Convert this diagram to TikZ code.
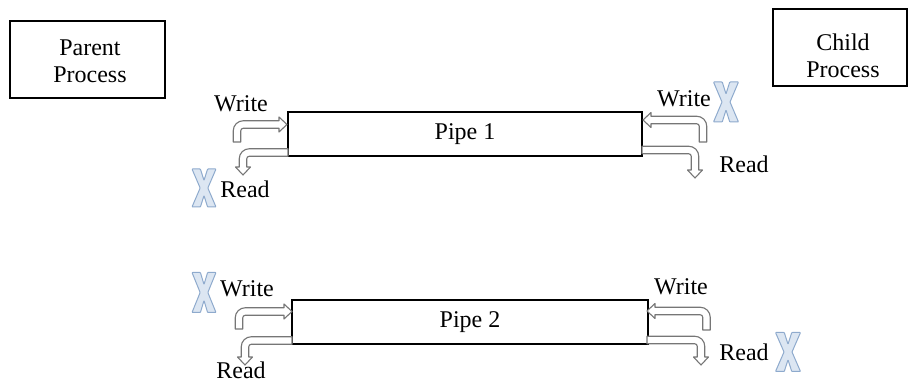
\documentclass[tikz,border=0pt]{standalone}
\usepackage{fontspec}
\setmainfont{Liberation Serif}
\definecolor{arrowgray}{HTML}{767676}
\definecolor{xfill}{HTML}{DCE6F2}
\definecolor{xline}{HTML}{8EAACD}

% shaft half-width, outer bend radius, inner bend radius, head length, head half-width
\newcommand\sw{3.75}
\newcommand\rr{10}
\newcommand\ri{2.5}
\newcommand\hl{8}
\newcommand\hw{7.5}

% Hollow bent block arrow. Canonical form: tail runs down from the bend,
% head points right.  #1 = bend point, #2 = transform, #3 = tail length,
% #4 = distance from the bend to the tip.
\newcommand\bentarrow[4]{%
  \begin{scope}[shift={#1}, #2]
    \draw[blockarrow]
      (-\sw,-#3) -- (-\sw,\sw-\rr)
      .. controls (-\sw,\sw-\rr+0.5523*\rr) and (-\sw+\rr-0.5523*\rr,\sw) .. (-\sw+\rr,\sw)
      -- (#4-\hl,\sw) -- (#4-\hl,\hw) -- (#4,0) -- (#4-\hl,-\hw) -- (#4-\hl,-\sw)
      -- (\sw+\ri,-\sw)
      .. controls (\sw+\ri-0.5523*\ri,-\sw) and (\sw,-\sw-\ri+0.5523*\ri) .. (\sw,-\sw-\ri)
      -- (\sw,-#3) -- cycle;
  \end{scope}}

% Outlined cross mark. #1 = centre, #2 = width, #3 = height
\newcommand\crossmark[3]{%
  \begin{scope}[shift={#1}, xscale=#2, yscale=#3]
    \draw[crossshape]
      (-0.5,0.5) -- (-0.15,0.5) -- (0,0.2) -- (0.15,0.5) -- (0.5,0.5)
      -- (0.16,0) -- (0.5,-0.5) -- (0.15,-0.5) -- (0,-0.2) -- (-0.15,-0.5)
      -- (-0.5,-0.5) -- (-0.16,0) -- cycle;
  \end{scope}}

\begin{document}
\begin{tikzpicture}[x=1pt, y=1pt,
  txt/.style={font=\fontsize{24pt}{27pt}\selectfont, inner sep=0pt},
  lbl/.style={txt, anchor=base},
  frame/.style={draw=black, line width=1.5pt, fill=white, inner sep=0pt, outer sep=0pt},
  blockarrow/.style={draw=arrowgray, line width=1.1pt, fill=white, line join=round},
  crossshape/.style={draw=xline, fill=xfill, line width=1pt, line join=round, rounded corners=0.6pt}]
\useasboundingbox (0,0) rectangle (908,383);

% process boxes
\node[frame, minimum width=155pt, minimum height=77pt] (parent) at (87.5,323.5) {};
\node[txt, align=center] (parenttext) at (90,322) {Parent\\Process};
\node[frame, minimum width=134pt, minimum height=77pt] (child) at (840,335.5) {};
\node[txt, align=center] (childtext) at (843,327) {Child\\Process};

% pipes
\node[frame, txt, minimum width=354pt, minimum height=44pt] (pipe1) at (465,249) {Pipe 1};
\node[frame, txt, minimum width=356pt, minimum height=44pt] (pipe2) at (470,61) {Pipe 2};

% pipe 1 ends
\bentarrow{(237,258.5)}{}{17.5}{50}
\bentarrow{(243,230.5)}{cm={0,-1,-1,0,(0,0)}}{45}{22.5}
\bentarrow{(703,263)}{xscale=-1}{22}{60}
\bentarrow{(695,233)}{rotate=-90}{53}{28}

% pipe 2 ends
\bentarrow{(239,71.5)}{}{17.5}{53}
\bentarrow{(245,42.5)}{cm={0,-1,-1,0,(0,0)}}{47}{24.5}
\bentarrow{(706.5,72)}{xscale=-1}{19}{59.5}
\bentarrow{(701,43)}{rotate=-90}{54}{25}

% labels
\node[lbl] (w1) at (241,271) {Write};
\node[lbl] (r1) at (245,185) {Read};
\node[lbl] (w2) at (684,276) {Write};
\node[lbl] (r2) at (744,210) {Read};
\node[lbl] (w3) at (247,86) {Write};
\node[lbl] (r3) at (241,5) {Read};
\node[lbl] (w4) at (681,88) {Write};
\node[lbl] (r4) at (744,23) {Read};

% closed ends
\crossmark{(204,195)}{24}{38}
\crossmark{(726,281)}{25}{40}
\crossmark{(204,90.5)}{24}{40}
\crossmark{(788,31)}{25}{39}
\end{tikzpicture}
\end{document}
